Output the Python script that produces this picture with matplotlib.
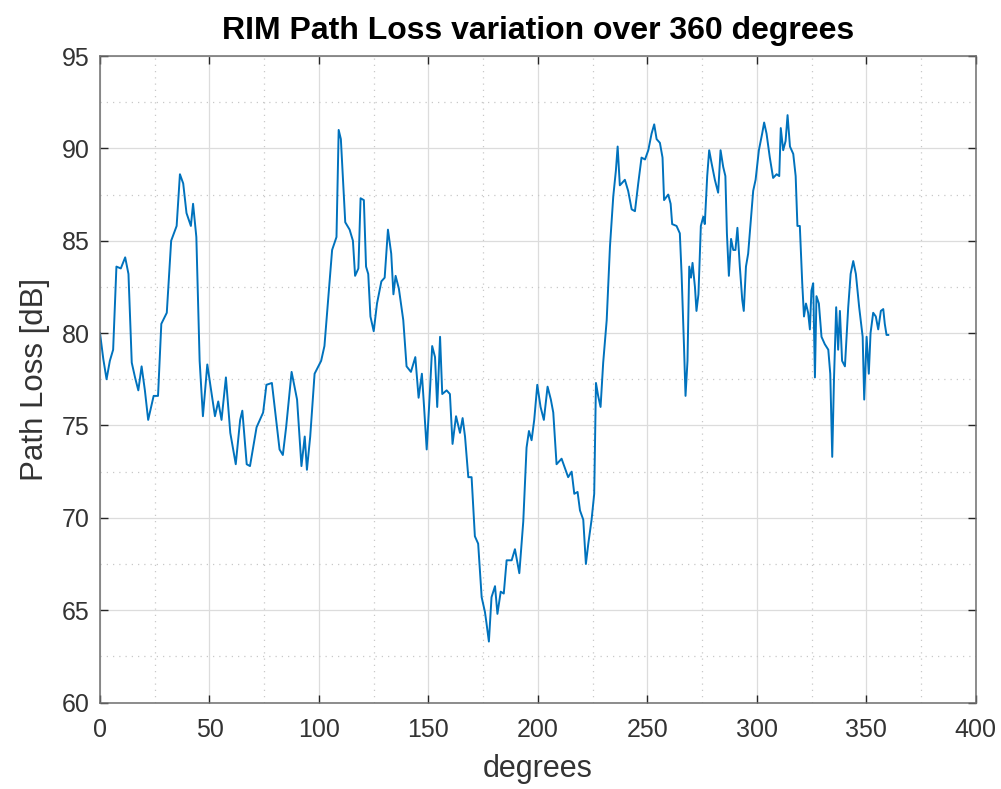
import matplotlib.pyplot as plt
from matplotlib.ticker import MultipleLocator

# angle [deg] and path loss [dB]
deg = [0, 1.5, 3, 4.5, 6, 7.5, 9.5, 10.5, 11.5, 13, 14.5, 16, 17.5, 19, 20.5, 22, 24.5, 26.5,
       28, 30.5, 32.5, 35, 36.5, 38, 39.5, 41.5, 42.5, 44, 45.5, 47, 49, 52.5, 54, 55.5, 57.5,
       59.5, 62, 64, 65, 67, 68.5, 71.5, 74.5, 76, 78.5, 82, 83.5, 85, 87.5, 90, 92, 93.5, 94.5,
       96, 98, 101, 102.5, 104.5, 106, 108, 109, 110, 112, 114, 115.5, 116.5, 118, 119, 120.5,
       121.5, 122.5, 123.5, 125, 126.5, 128.5, 130, 131.5, 133, 134, 135, 136.5, 138.5, 140,
       142, 144, 145.5, 147, 148, 149.2, 150.7, 151.7, 153, 154, 155.3, 156.3, 158.3, 159.8,
       161, 162.6, 164.4, 165.6, 166.7, 168.2, 169.7, 171.2, 172.7, 174.3, 175.8, 176.5, 177.6,
       178.8, 180.4, 181.5, 183, 184.4, 185.7, 188, 189.5, 191.5, 193.3, 194.8, 195.9, 197.1,
       198.3, 199.7, 201.2, 202.7, 204.4, 205.9, 207, 208.5, 210.8, 212.3, 213.8, 215.4, 216.6,
       218.1, 219.2, 220.7, 221.9, 223, 224.5, 225.7, 226.5, 227.5, 228.6, 229.8, 231.4, 232.9,
       234.4, 235.6, 236.4, 237.4, 238.2, 239.7, 241.2, 242.8, 244.3, 245.8, 247.3, 248.9,
       250.4, 251.9, 253.1, 254.2, 255.7, 256.9, 257.6, 259.5, 260.6, 261.3, 263.3, 264.8,
       265.6, 266.7, 267.4, 268.3, 269.1, 269.9, 270.6, 271.7, 272.4, 273.3, 274.4, 275.5,
       276.2, 277.3, 278.2, 279.3, 280.8, 282.3, 283.4, 284.6, 285.6, 286.3, 287.2, 288.2,
       289.2, 290.2, 291.1, 292.2, 293.3, 294, 295, 296, 297.1, 298.3, 299.4, 300.9, 302.4,
       303.3, 304.4, 305.9, 307.4, 309, 310.2, 310.9, 312, 313.1, 314, 315.1, 316.6, 317.7,
       318.5, 319.6, 320.7, 321.5, 322.4, 323.4, 324.2, 324.9, 325.7, 326.5, 327.2, 328.3,
       329.5, 331, 332.6, 333.5, 334.4, 335.2, 336.2, 337.1, 337.9, 338.9, 340.2, 341.7, 342.8,
       344, 345.2, 346.7, 348.3, 349, 350.1, 351.1, 351.9, 353.1, 354.3, 355.4, 356.6, 357.7,
       358.4, 359.2, 360]
loss = [80.0, 78.6, 77.5, 78.5, 79.1, 83.6, 83.5, 83.8, 84.1, 83.2, 78.4, 77.6, 76.9, 78.2, 76.9,
        75.3, 76.6, 76.6, 80.5, 81.1, 85.0, 85.8, 88.6, 88.1, 86.5, 85.8, 87.0, 85.2, 78.5, 75.5,
        78.3, 75.5, 76.3, 75.3, 77.6, 74.6, 72.9, 75.3, 75.8, 72.9, 72.8, 74.9, 75.7, 77.2, 77.3,
        73.7, 73.4, 74.9, 77.9, 76.4, 72.8, 74.4, 72.6, 74.4, 77.8, 78.5, 79.3, 82.3, 84.5, 85.2,
        91.0, 90.5, 86.0, 85.6, 85.0, 83.1, 83.5, 87.3, 87.2, 83.6, 83.2, 80.9, 80.1, 81.6, 82.8,
        83.0, 85.6, 84.3, 82.1, 83.1, 82.4, 80.7, 78.2, 77.9, 78.7, 76.5, 77.8, 76.0, 73.7, 76.9,
        79.3, 78.7, 76.0, 79.8, 76.7, 76.9, 76.7, 74.0, 75.5, 74.6, 75.4, 74.4, 72.2, 72.2, 69.0,
        68.6, 65.7, 64.9, 64.3, 63.3, 65.7, 66.3, 64.8, 66.0, 65.9, 67.7, 67.7, 68.3, 67.0, 69.8,
        73.8, 74.7, 74.2, 75.3, 77.2, 76.0, 75.3, 77.1, 76.4, 75.7, 72.9, 73.2, 72.7, 72.2, 72.5,
        71.3, 71.4, 70.4, 69.9, 67.5, 68.6, 69.9, 71.3, 77.3, 76.6, 76.0, 78.4, 80.7, 84.7, 87.4,
        88.8, 90.1, 88.0, 88.1, 88.3, 87.7, 86.7, 86.6, 88.1, 89.5, 89.4, 89.9, 90.8, 91.3, 90.5,
        90.3, 89.5, 87.2, 87.5, 87.0, 85.9, 85.8, 85.4, 83.2, 79.3, 76.6, 78.5, 83.6, 83.0, 83.8,
        82.5, 81.2, 82.1, 85.8, 86.3, 85.9, 88.5, 89.9, 89.2, 88.3, 87.6, 89.9, 89.0, 88.5, 85.4,
        83.1, 85.1, 84.5, 84.5, 85.7, 83.6, 81.8, 81.2, 83.6, 84.3, 85.9, 87.7, 88.3, 89.9, 90.8,
        91.4, 90.8, 89.5, 88.4, 88.6, 88.5, 91.1, 89.9, 90.4, 91.8, 90.1, 89.7, 88.5, 85.8, 85.8,
        82.7, 80.9, 81.6, 81.1, 80.2, 82.3, 82.7, 77.6, 82.0, 81.6, 79.8, 79.4, 79.1, 77.8, 73.3,
        77.5, 81.4, 79.1, 81.2, 78.5, 78.2, 81.4, 83.2, 83.9, 83.2, 81.4, 79.8, 76.4, 79.8, 77.8,
        80.0, 81.1, 80.9, 80.2, 81.2, 81.3, 80.5, 79.9, 79.9]

plt.rcParams['font.family'] = ['Liberation Sans', 'DejaVu Sans']

fig = plt.figure(figsize=(10.01, 7.89), dpi=100)
ax = fig.add_axes([0.0999, 0.1096, 0.875, 0.8194])

ax.plot(deg, loss, color='#0072BD', linewidth=1.4)

ax.set_xlim(0, 400)
ax.set_ylim(60, 95)
ax.xaxis.set_major_locator(MultipleLocator(50))
ax.yaxis.set_major_locator(MultipleLocator(5))
ax.xaxis.set_minor_locator(MultipleLocator(25))
ax.yaxis.set_minor_locator(MultipleLocator(2.5))

ax.grid(True, which='major', color='#dcdcdc', linestyle='-', linewidth=0.9)
ax.grid(True, which='minor', color='#c8c8c8', linestyle=(0, (1, 4)), linewidth=0.9)
ax.set_axisbelow(True)

ax.tick_params(which='major', direction='in', length=6, width=1, color='#262626',
               top=True, right=True, labelsize=18, labelcolor='#333333')
ax.tick_params(axis='x', which='major', pad=11)
ax.tick_params(axis='y', which='major', pad=7.5)
ax.tick_params(which='minor', length=0)
for s in ax.spines.values():
    s.set_color('#6e6e6e')
    s.set_linewidth(1.1)

ax.set_title('RIM Path Loss variation over 360 degrees', fontsize=23, fontweight='bold', pad=12)
ax.set_xlabel('degrees', fontsize=22, color='#333333', labelpad=9)
ax.set_ylabel('Path Loss [dB]', fontsize=22.5, color='#333333', labelpad=8)

fig.savefig('out.png', dpi=100)
